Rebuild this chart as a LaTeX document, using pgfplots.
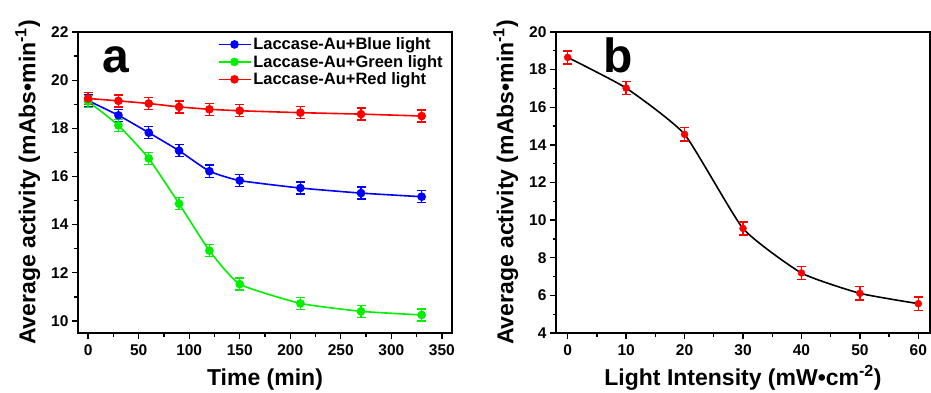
\documentclass[border=0pt]{standalone}
\usepackage{fontspec}
\setmainfont{Liberation Sans}
\usepackage{pgfplots}
\pgfplotsset{compat=1.18}
\definecolor{cblue}{RGB}{0,0,255}
\definecolor{cgreen}{RGB}{0,240,0}
\definecolor{cred}{RGB}{255,0,0}
\pgfplotsset{
  myax/.style={
    scale only axis, width=374pt, height=301pt,
    axis line style={line width=1.4pt},
    tick align=outside, tick pos=left, minor tick num=1,
    major tick length=6pt, minor tick length=3.5pt,
    every tick/.style={black, line width=1.3pt},
    every minor tick/.style={black, line width=1.3pt},
    ticklabel style={font=\fontsize{15.5}{17}\selectfont\bfseries},
    xticklabel style={yshift=-2pt},
    /pgf/number format/assume math mode=true,
    label style={font=\fontsize{23}{26}\selectfont\bfseries},
    ylabel style={yshift=4pt},
    xlabel style={text height=18pt, text depth=5pt, yshift=-5pt},
  },
  ebar/.style={error bars/.cd, y dir=both, y explicit,
    error bar style={line width=1.4pt},
    error mark options={rotate=90, mark size=4.5pt, line width=1.4pt}},
}
\begin{document}
\begin{tikzpicture}
\path[use as bounding box] (-78pt,-59pt) rectangle (853pt,333pt);
\begin{axis}[myax, at={(0pt,0pt)}, anchor=south west,
  xmin=-10, xmax=360, ymin=9.5, ymax=22,
  xtick={0,50,...,350}, ytick={10,12,...,22},
  xlabel={Time (min)},
  ylabel={Average activity (mAbs\textbullet min\textsuperscript{-1})},
  legend style={at={(0.365,0.995)}, anchor=north west, draw=none, fill=none,
    font=\fontsize{16.5}{20}\selectfont\bfseries, row sep=0pt,
    /tikz/every even column/.append style={column sep=2pt}},
  legend cell align=left,
  legend image code/.code={\draw[#1, mark repeat=2, mark phase=2] plot coordinates {(0pt,0pt) (16pt,0pt) (32pt,0pt)};},
]
\addplot[cblue, line width=1.6pt, smooth, tension=0.3, mark=*, mark size=3.5pt, ebar] coordinates {
 (0,19.15) +- (0,0.25)
 (30,18.54) +- (0,0.25)
 (60,17.82) +- (0,0.25)
 (90,17.07) +- (0,0.25)
 (120,16.22) +- (0,0.25)
 (150,15.83) +- (0,0.25)
 (210,15.52) +- (0,0.25)
 (270,15.31) +- (0,0.25)
 (330,15.16) +- (0,0.25)
};
\addlegendentry{Laccase-Au+Blue light}
\addplot[cgreen, line width=1.6pt, smooth, tension=0.3, mark=*, mark size=3.5pt, ebar] coordinates {
 (0,19.12) +- (0,0.25)
 (30,18.12) +- (0,0.25)
 (60,16.75) +- (0,0.25)
 (90,14.87) +- (0,0.25)
 (120,12.92) +- (0,0.25)
 (150,11.53) +- (0,0.25)
 (210,10.73) +- (0,0.25)
 (270,10.40) +- (0,0.25)
 (330,10.25) +- (0,0.25)
};
\addlegendentry{Laccase-Au+Green light}
\addplot[cred, line width=1.6pt, smooth, tension=0.3, mark=*, mark size=3.5pt, ebar] coordinates {
 (0,19.24) +- (0,0.25)
 (30,19.14) +- (0,0.25)
 (60,19.03) +- (0,0.25)
 (90,18.89) +- (0,0.25)
 (120,18.79) +- (0,0.25)
 (150,18.73) +- (0,0.25)
 (210,18.65) +- (0,0.25)
 (270,18.59) +- (0,0.25)
 (330,18.51) +- (0,0.25)
};
\addlegendentry{Laccase-Au+Red light}
\node[anchor=base west, font=\fontsize{48}{50}\selectfont\bfseries, inner sep=0pt] at (rel axis cs:0.064,0.867) {a};
\end{axis}
\begin{axis}[myax, at={(478pt,0pt)}, anchor=south west,
  xmin=-2, xmax=62, ymin=4, ymax=20,
  xtick={0,10,...,60}, ytick={4,6,...,20},
  xlabel={Light Intensity (mW\textbullet cm\textsuperscript{-2})},
  ylabel={Average activity (mAbs\textbullet min\textsuperscript{-1})},
]
\addplot[black, line width=1.6pt, smooth, tension=0.3] coordinates {
 (0,18.65) (10,17.02) (20,14.56) (30,9.56) (40,7.19) (50,6.11) (60,5.56)
};
\addplot[cred, only marks, mark=*, mark size=3.5pt, ebar] coordinates {
 (0,18.65) +- (0,0.35)
 (10,17.02) +- (0,0.35)
 (20,14.56) +- (0,0.35)
 (30,9.56) +- (0,0.35)
 (40,7.19) +- (0,0.35)
 (50,6.11) +- (0,0.35)
 (60,5.56) +- (0,0.35)
};
\node[anchor=base west, font=\fontsize{48}{50}\selectfont\bfseries, inner sep=0pt] at (rel axis cs:0.127,0.867) {b};
\end{axis}
\end{tikzpicture}
\end{document}
